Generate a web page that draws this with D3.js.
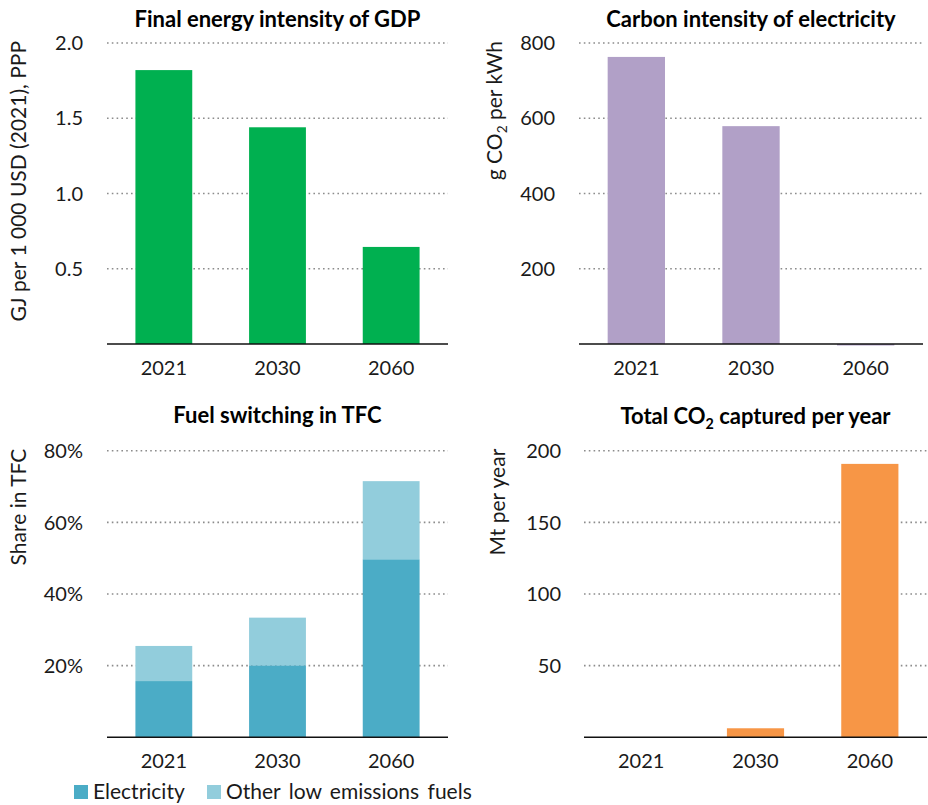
<!DOCTYPE html>
<html>
<head>
<meta charset="utf-8">
<script src="https://cdn.jsdelivr.net/npm/d3@7"></script>
<style>
  html, body { margin: 0; padding: 0; background: #fff; }
  svg { display: block; font-family: Lato, "Open Sans", sans-serif; }
</style>
</head>
<body>
<svg id="chart" width="928" height="805"></svg>
<script>
// ---- Data ----
const years = ["2021", "2030", "2060"];
const energyIntensity = [1.82, 1.44, 0.645];          // GJ per 1 000 USD (2021), PPP
const carbonIntensity = [763, 579, -4];               // g CO2 per kWh
const electricityShare = [0.157, 0.201, 0.497];       // share in TFC
const otherLowEmissionsShare = [0.098, 0.133, 0.218]; // share in TFC
const co2Captured = [0, 6.3, 190.8];                  // Mt per year

const ticksEnergy = [0.5, 1.0, 1.5, 2.0];
const ticksCarbon = [200, 400, 600, 800];
const ticksShare = [0.2, 0.4, 0.6, 0.8];
const ticksCaptured = [50, 100, 150, 200];

const legendLabels = ["Electricity", "Other low emissions fuels"];

// ---- Drawing ----
const svg = d3.select("#chart");
const TICK_FS = 20, TITLE_FS = 22, LABEL_FS = 21;

function panel(cfg) {
  const x = d3.scaleBand().domain(years).range(cfg.xRange).paddingInner(0.5).paddingOuter(0.25);
  const y = d3.scaleLinear().domain(cfg.yDomain).range(cfg.yRange);
  const g = svg.append("g");

  // gridlines
  g.selectAll("line.grid").data(cfg.ticks).join("line")
    .attr("class", "grid")
    .attr("x1", cfg.xRange[0]).attr("x2", cfg.xRange[1])
    .attr("y1", d => y(d)).attr("y2", d => y(d))
    .attr("stroke", "#8c8c8c").attr("stroke-width", 1.6)
    .attr("stroke-dasharray", "1.6,3.2");

  // tick labels (y)
  g.selectAll("text.ytick").data(cfg.ticks).join("text")
    .attr("class", "ytick")
    .attr("x", cfg.tickX).attr("y", d => y(d)).attr("dy", "0.36em")
    .attr("text-anchor", "end").attr("font-size", TICK_FS).attr("fill", "#1a1a1a")
    .text(cfg.fmt);

  // bars
  cfg.series.forEach((s, si) => {
    g.selectAll("rect.s" + si).data(years).join("rect")
      .attr("class", "s" + si)
      .attr("x", d => x(d))
      .attr("width", x.bandwidth())
      .attr("y", (d, i) => {
        const base = s.base ? s.base[i] : 0;
        return y(Math.max(base, base + s.values[i]));
      })
      .attr("height", (d, i) => Math.abs(y(0) - y(s.values[i])))
      .attr("fill", s.color);
  });

  // x axis line
  g.append("line")
    .attr("x1", cfg.xRange[0]).attr("x2", cfg.xRange[1])
    .attr("y1", y(0)).attr("y2", y(0))
    .attr("stroke", "#111").attr("stroke-width", 1.6);

  // x tick labels
  g.selectAll("text.xtick").data(years).join("text")
    .attr("class", "xtick")
    .attr("x", d => x(d) + x.bandwidth() / 2)
    .attr("y", y(0) + 31)
    .attr("text-anchor", "middle").attr("font-size", TICK_FS).attr("fill", "#1a1a1a")
    .text(d => d);

  // title
  const t = g.append("text")
    .attr("x", (cfg.xRange[0] + cfg.xRange[1]) / 2)
    .attr("y", cfg.titleY)
    .attr("text-anchor", "middle").attr("font-size", TITLE_FS).attr("font-weight", "bold")
    .attr("fill", "#000");
  cfg.title.forEach(p => {
    const ts = t.append("tspan").text(p.t);
    if (p.sub) ts.attr("font-size", TITLE_FS * 0.65).attr("dy", 5);
    else if (p.after) ts.attr("dy", -5);
  });

  // y label
  const yl = g.append("text")
    .attr("transform", `translate(${cfg.labelX},${cfg.yRange[1] - 2}) rotate(-90)`)
    .attr("text-anchor", "end").attr("font-size", LABEL_FS).attr("fill", "#1a1a1a");
  cfg.label.forEach(p => {
    const ts = yl.append("tspan").text(p.t);
    if (p.sub) ts.attr("font-size", LABEL_FS * 0.65).attr("dy", 5);
    else if (p.after) ts.attr("dy", -5);
  });
}

panel({
  xRange: [107, 448], yDomain: [0, 2], yRange: [344, 43],
  ticks: ticksEnergy, fmt: d => d.toFixed(1), tickX: 83,
  series: [{ values: energyIntensity, color: "#00b050" }],
  title: [{ t: "Final energy intensity of GDP" }], titleY: 27,
  label: [{ t: "GJ per 1 000 USD (2021), PPP" }], labelX: 26
});

panel({
  xRange: [579, 923], yDomain: [0, 800], yRange: [344, 43],
  ticks: ticksCarbon, fmt: d => d3.format("d")(d), tickX: 555,
  series: [{ values: carbonIntensity, color: "#b1a0c7" }],
  title: [{ t: "Carbon intensity of electricity" }], titleY: 27,
  label: [{ t: "g CO" }, { t: "2", sub: true }, { t: " per kWh", after: true }], labelX: 502
});

panel({
  xRange: [107, 448], yDomain: [0, 0.8], yRange: [737.3, 450.7],
  ticks: ticksShare, fmt: d3.format(".0%"), tickX: 83,
  series: [
    { values: electricityShare, color: "#4bacc6" },
    { values: otherLowEmissionsShare, base: electricityShare, color: "#92cddc" }
  ],
  title: [{ t: "Fuel switching in TFC" }], titleY: 423,
  label: [{ t: "Share in TFC" }], labelX: 26
});

panel({
  xRange: [584, 927], yDomain: [0, 200], yRange: [737.3, 450.7],
  ticks: ticksCaptured, fmt: d => d3.format("d")(d), tickX: 561,
  series: [{ values: co2Captured, color: "#f79646" }],
  title: [{ t: "Total CO" }, { t: "2", sub: true }, { t: " captured per year", after: true }], titleY: 424,
  label: [{ t: "Mt per year" }], labelX: 505
});

// legend
const legendColors = ["#4bacc6", "#92cddc"];
const lg = svg.append("g");
const legendX = [74, 207];
legendLabels.forEach((lab, i) => {
  lg.append("rect").attr("x", legendX[i]).attr("y", 785).attr("width", 14).attr("height", 14)
    .attr("fill", legendColors[i]);
  lg.append("text").attr("x", legendX[i] + 19).attr("y", 799)
    .attr("font-size", 21).attr("word-spacing", 3).attr("fill", "#1a1a1a").text(lab);
});
</script>
</body>
</html>
